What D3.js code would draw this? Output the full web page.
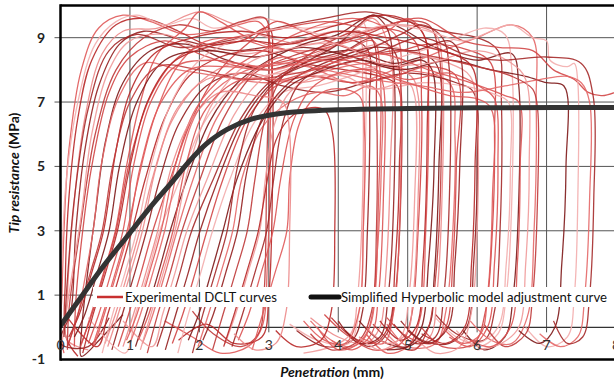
<!DOCTYPE html>
<html>
<head>
<meta charset="utf-8">
<script src="https://cdn.jsdelivr.net/npm/d3@7"></script>
<style>
  html, body { margin: 0; padding: 0; background: #fff; }
  svg { display: block; }
  text { font-family: Lato, "Open Sans", "Liberation Sans", sans-serif; }
</style>
</head>
<body>
<div id="chart"></div>
<script>
// Tip resistance (MPa) versus penetration (mm): each DCLT test is a [penetration, resistance] trace.

// Traces starting right at the surface
const earlyCurves = [
  [[0.05,-0.8],[0.0,-0.2],[0.02,1],[0.05,3],[0.12,5.5],[0.3,8],[0.55,9.3],[0.9,9.7],[1.3,9.5],[1.8,9.1],[2.4,9.3],[2.85,9.5],[3.0,9.0],[3.02,6],[2.98,2],[2.9,0],[2.7,-0.6],[2.3,-0.8],[1.9,-0.3],[1.5,0.2]],
  [[0.25,-0.9],[0.08,-0.3],[0.07,1.5],[0.12,4],[0.25,6.5],[0.45,8.3],[0.8,9.4],[1.2,9.6],[1.7,9.2],[2.1,8.8],[2.6,8.9],[3.0,9.3],[3.05,8],[3.05,4],[3.0,1],[2.9,-0.3],[2.5,-0.5],[2.1,0.1],[1.7,-0.4]],
  [[0.4,-0.7],[0.1,-0.4],[0.1,1],[0.18,3.5],[0.35,6.5],[0.6,8.5],[0.9,9.2],[1.4,9.3],[2.0,9.8],[2.4,9.5],[3.0,9.0],[3.6,8.8],[4.2,9.2],[4.5,9.6],[4.75,8.5],[4.75,5],[4.68,1.5],[4.6,0],[4.4,-0.5],[4.0,-0.3],[3.6,0.3]],
  [[0.7,0.3],[0.4,-0.6],[0.0,-0.5],[0.15,0.5],[0.22,3],[0.35,5.5],[0.55,7.5],[0.85,8.8],[1.2,9.2],[1.8,8.9],[2.5,8.6],[3.2,8.8],[3.8,9.0],[4.4,8.7],[4.45,7],[4.42,3],[4.35,0.5],[4.2,-0.4],[3.8,-0.6],[3.4,-0.1]],
  [[0.2,-0.6],[0.22,0.8],[0.32,3],[0.45,5],[0.7,7.3],[1.0,8.4],[1.5,8.9],[2.0,8.5],[2.6,8.1],[3.3,8.3],[4.0,8.8],[4.6,9.3],[5.1,8.9],[5.2,7],[5.15,3],[5.05,0.3],[4.9,-0.5],[4.5,-0.7],[4.1,-0.2],[3.8,0.4]],
  [[0.0,-0.3],[0.02,2],[0.08,4.5],[0.25,7],[0.5,8.8],[0.8,9.5],[1.1,9.7],[1.5,9.4],[1.9,9.6],[2.2,9.3],[2.9,9.6],[3.5,9.3],[4.0,9.4],[4.35,9.5],[4.4,8],[4.37,4],[4.3,0.5],[4.15,-0.5],[3.7,-0.4],[3.3,0.1]],
  [[0.9,0.4],[0.6,-0.3],[0.3,-0.9],[0.3,-0.2],[0.38,1.5],[0.5,3.5],[0.65,5.8],[0.9,7.6],[1.3,8.6],[1.8,8.8],[2.4,8.3],[3.0,8.0],[3.6,8.4],[4.2,8.6],[4.8,8.2],[5.3,8.4],[5.45,8],[5.45,5],[5.38,1.5],[5.3,0],[5.0,-0.6],[4.6,-0.4],[4.3,0.2]],
  [[0.1,-0.6],[0.25,0.4],[0.35,1.5],[0.47,3],[0.6,5.2],[0.85,7.2],[1.2,8.2],[1.7,8.0],[2.3,7.8],[3.0,7.6],[3.7,7.9],[4.4,8.2],[5.0,8.0],[5.6,7.6],[5.68,6],[5.65,3],[5.55,0.5],[5.4,-0.5],[5.0,-0.6],[4.7,0.1]],
  [[0.1,-0.7],[0.12,0.5],[0.28,3],[0.5,6],[0.8,8],[1.2,9],[1.7,9.4],[2.2,9.2],[2.6,9.5],[2.95,9.6],[3.0,8.5],[2.97,5],[2.93,1],[2.85,-0.2],[2.6,-0.6],[2.2,-0.2],[1.9,0.5]],
  [[0.02,-0.5],[0.12,1],[0.3,3.5],[0.45,6],[0.7,8],[1.0,8.9],[1.5,9.1],[2.0,8.7],[2.7,8.5],[3.4,8.9],[4.0,9.2],[4.3,9.0],[4.35,7.5],[4.35,4],[4.28,1],[4.18,-0.2],[3.9,-0.6],[3.5,-0.8]],
  [[0.05,-0.3],[0.1,1.5],[0.2,4],[0.4,6.8],[0.7,8.6],[1.1,9.1],[1.7,8.7],[2.4,8.9],[3.1,9.3],[3.8,9.6],[4.4,9.8],[5.0,9.5],[5.5,9.2],[6.0,9.0],[6.3,8.6],[6.35,7],[6.33,3],[6.25,0.5],[6.1,-0.4],[5.7,-0.2],[5.4,0.4]]
];

// Traces that start after a short initial penetration
const midCurves = [
  [[0.29,-0.6],[0.44,0.4],[0.62,1.7],[0.79,3],[0.95,5],[1.15,7],[1.4,8.5],[1.8,9.3],[2.0,9.8],[2.3,9.5],[2.7,9.0],[3.3,8.6],[3.9,8.4],[4.5,8.9],[4.6,8],[4.58,4],[4.5,0.5],[4.35,-0.4],[4.0,-0.7],[3.7,0]],
  [[0.46,-0.6],[0.61,0.4],[0.79,1.7],[0.96,3],[1.12,4.6],[1.35,6.5],[1.65,8],[2.0,8.8],[2.5,9.0],[3.0,8.7],[3.6,8.6],[4.2,8.9],[4.7,9.2],[5.0,9.6],[5.25,9.0],[5.3,7],[5.26,3],[5.18,0.3],[5.0,-0.6],[4.7,-0.8],[4.4,-0.2]],
  [[0.1,0.3],[0.53,-0.6],[0.68,0.4],[0.86,1.7],[1.03,3],[1.22,4.6],[1.5,6.5],[1.85,7.8],[2.3,8.4],[2.9,8.6],[3.5,8.2],[4.1,8.0],[4.6,7.8],[4.85,7.5],[4.88,5],[4.82,2],[4.72,0],[4.5,-0.5],[4.2,-0.3],[3.9,0.3]],
  [[0.64,-0.5],[0.79,0.4],[0.97,1.7],[1.14,3],[1.32,4.6],[1.6,6.4],[2.0,7.6],[2.5,8.2],[3.1,8.0],[3.7,8.5],[4.3,9.1],[4.9,9.4],[5.4,9.1],[5.5,8],[5.5,4.5],[5.42,1],[5.32,-0.3],[5.0,-0.7],[4.7,-0.2]],
  [[0.74,-0.7],[0.89,0.4],[1.07,1.7],[1.24,3],[1.43,4.6],[1.7,6.3],[2.1,7.5],[2.6,7.9],[3.2,7.5],[3.8,7.3],[4.4,7.6],[5.0,7.9],[5.7,7.6],[5.95,7.3],[6.0,5],[5.95,2],[5.85,0],[5.6,-0.5],[5.2,-0.4],[4.9,0.2]],
  [[0.83,-0.6],[0.98,0.4],[1.16,1.7],[1.33,3],[1.58,4.6],[1.9,6.5],[2.3,8],[2.8,9.0],[3.1,9.5],[3.5,9.2],[4.1,8.7],[4.7,8.5],[5.3,8.8],[5.9,8.6],[6.2,8.2],[6.25,6],[6.22,3],[6.12,0.5],[5.95,-0.5],[5.5,-0.6],[5.2,0]],
  [[0.4,0.3],[0.93,-0.8],[1.08,0.4],[1.26,1.7],[1.43,3],[1.72,4.6],[2.05,6.3],[2.45,7.4],[2.9,7.8],[3.4,7.9],[4.0,7.7],[4.6,7.4],[5.2,7.6],[5.8,7.5],[6.3,7.2],[6.45,7],[6.48,5],[6.42,2],[6.3,0],[6.0,-0.5],[5.7,-0.3],[5.4,0.3]],
  [[1.08,-0.6],[1.23,0.4],[1.41,1.7],[1.58,3],[1.82,4.6],[2.15,6.4],[2.55,7.6],[3.0,8.3],[3.5,8.8],[4.0,9.1],[4.5,9.7],[4.9,9.3],[5.4,8.7],[6.0,8.3],[6.5,8.5],[6.6,7.5],[6.6,4],[6.52,1],[6.4,-0.3],[6.1,-0.7],[5.8,-0.1]],
  [[1.18,-0.5],[1.33,0.4],[1.51,1.7],[1.68,3],[1.91,4.6],[2.25,6.5],[2.7,7.8],[3.2,8.4],[3.7,8.0],[4.2,7.6],[4.8,8.0],[5.5,8.6],[6.0,9.0],[6.5,9.4],[6.8,9.0],[6.85,7],[6.82,3],[6.72,0.3],[6.5,-0.5],[6.2,-0.4],[5.9,0.2]],
  [[1.25,-0.8],[1.4,0.4],[1.58,1.7],[1.75,3],[2.01,4.6],[2.35,6.5],[2.8,7.9],[3.3,8.4],[3.9,8.8],[4.4,9.1],[4.9,9.5],[5.3,9.4],[5.45,8.5],[5.48,5],[5.4,1.5],[5.3,0],[5.1,-0.7],[4.8,-0.5],[4.5,0.1]],
  [[0.9,0.2],[1.32,-0.6],[1.47,0.4],[1.65,1.7],[1.82,3],[2.11,4.6],[2.5,6.6],[2.9,7.7],[3.4,8.1],[4.0,8.4],[4.6,8.8],[5.1,8.5],[5.6,8.2],[5.9,7.8],[6.0,6.5],[6.0,3],[5.92,0.5],[5.75,-0.6],[5.4,-0.8],[5.1,-0.3]],
  [[1.39,-0.6],[1.54,0.4],[1.72,1.7],[1.89,3],[2.2,4.6],[2.6,6.5],[3.0,7.6],[3.5,8.2],[4.1,8.6],[4.5,9.0],[4.8,8.6],[4.9,7.5],[4.9,4],[4.82,1],[4.7,-0.2],[4.45,-0.6],[4.1,-0.1]],
  [[0.4,-0.5],[0.55,0.4],[0.73,1.7],[0.9,3],[1.05,5],[1.3,7],[1.65,8.1],[2.2,8.3],[2.9,8.1],[3.5,8.3],[4.1,8.3],[4.55,8.0],[4.65,7.5],[4.65,4],[4.58,1],[4.48,-0.2],[4.2,-0.7],[3.9,-0.4]],
  [[0.95,-0.4],[1.1,0.4],[1.28,1.7],[1.45,3],[1.65,5],[1.95,6.8],[2.4,7.9],[3.0,8.7],[3.6,9.3],[4.2,9.6],[4.6,9.4],[4.85,9.0],[4.9,7],[4.88,3],[4.8,0.5],[4.65,-0.5],[4.3,-0.3]],
  [[0.12,-0.3],[0.27,0.4],[0.45,1.7],[0.62,3],[0.8,5.5],[1.0,7.3],[1.35,8.5],[1.9,9.0],[2.6,9.2],[3.3,9.0],[4.0,9.4],[4.7,9.7],[5.1,9.4],[5.25,9.0],[5.28,6],[5.22,2],[5.12,0],[4.9,-0.4],[4.6,0.2]],
  [[0.68,-0.6],[0.83,0.4],[1.01,1.7],[1.18,3],[1.38,5],[1.68,6.8],[2.1,7.7],[2.7,7.9],[3.4,7.6],[4.1,7.9],[4.6,8.1],[5.05,7.8],[5.15,7.2],[5.15,4],[5.08,1],[4.98,-0.2],[4.7,-0.5],[4.4,0]]
];

// Traces that start late and stiffen quickly
const lateCurves = [
  [[1.51,-0.7],[1.66,0.4],[1.84,1.7],[2.01,3],[2.27,4.6],[2.6,6.3],[3.0,7.5],[3.5,8.2],[4.0,8.8],[4.3,9.4],[4.5,9.7],[4.7,9.3],[4.8,8],[4.8,4],[4.72,1],[4.6,-0.3],[4.3,-0.5],[4.0,0.2]],
  [[1.61,-0.5],[1.76,0.4],[1.94,1.7],[2.11,3],[2.34,4.6],[2.7,6.5],[3.1,7.5],[3.6,7.8],[4.2,7.6],[4.8,7.8],[5.3,8.1],[5.7,7.8],[5.7,5],[5.65,2],[5.55,0],[5.35,-0.5],[5.0,-0.3],[4.7,0.3]],
  [[1.69,-0.8],[1.84,0.4],[2.02,1.7],[2.19,3],[2.44,4.6],[2.8,6.4],[3.2,7.3],[3.7,7.5],[4.3,7.9],[4.9,8.4],[5.5,8.8],[6.1,9.3],[6.4,9.1],[6.5,8],[6.5,4],[6.42,1],[6.3,-0.2],[6.0,-0.6],[5.7,-0.1]],
  [[1.84,-0.4],[1.99,0.4],[2.17,1.7],[2.34,3],[2.54,4.6],[2.9,6.4],[3.3,7.5],[3.8,8.0],[4.3,8.3],[4.8,8.1],[5.2,8.3],[5.35,8],[5.38,5],[5.3,2],[5.2,0],[5.0,-0.6],[4.7,-0.7]],
  [[1.98,-0.6],[2.13,0.4],[2.31,1.7],[2.48,3],[2.61,4.6],[2.9,6.2],[3.3,7.0],[3.7,7.3],[4.1,7.2],[4.45,7.5],[4.6,7.2],[4.62,5],[4.55,2],[4.45,0],[4.2,-0.6],[3.9,-0.4],[3.6,0.2]],
  [[2.19,-0.7],[2.34,0.4],[2.52,1.7],[2.69,3],[2.8,4.6],[2.95,6.5],[3.2,7.8],[3.6,8.5],[4.0,9.0],[4.3,9.2],[4.5,8.9],[4.55,7],[4.55,3],[4.48,0.5],[4.3,-0.4],[3.9,-0.7],[3.6,-0.2]],
  [[2.37,-0.5],[2.52,0.4],[2.7,1.7],[2.87,3],[2.95,4.6],[3.08,6.3],[3.3,7.3],[3.7,7.8],[4.1,7.8],[4.5,7.4],[5.0,7.6],[5.1,7.2],[5.1,4],[5.02,1],[4.9,-0.3],[4.6,-0.7],[4.3,-0.3]],
  [[2.47,-0.6],[2.62,0.4],[2.8,1.7],[2.97,3],[3.07,4.6],[3.22,6.5],[3.45,7.6],[3.9,8.2],[4.4,8.6],[4.9,9.1],[5.2,9.4],[5.5,9.0],[5.6,8],[5.6,4],[5.52,1],[5.4,-0.3],[5.1,-0.5],[4.8,0.1]],
  [[2.56,-0.4],[2.71,0.4],[2.89,1.7],[3.06,3],[3.17,4.6],[3.35,6.4],[3.6,7.4],[4.0,7.9],[4.5,8.0],[5.0,7.7],[5.6,7.9],[6.1,7.4],[6.25,7.1],[6.3,5],[6.25,2],[6.15,0],[5.9,-0.6],[5.6,-0.3]],
  [[2.76,-0.7],[2.91,0.4],[3.09,1.7],[3.26,3],[3.3,4.6],[3.42,6.2],[3.6,7.0],[3.9,7.4],[4.3,7.2],[4.38,6],[4.36,3],[4.3,0.5],[4.1,-0.5],[3.8,-0.4],[3.5,0.2]],
  [[2.35,-0.6],[2.5,0.4],[2.68,1.7],[2.85,3],[2.98,4.6],[3.1,5.8],[3.3,6.5],[3.55,6.8],[3.8,6.75],[3.92,6],[3.95,3],[3.9,0.5],[3.75,-0.4],[3.4,-0.6],[3.1,-0.1]],
  [[0.9,-0.6],[1.05,0.4],[1.23,1.7],[1.4,3],[1.6,5],[1.9,6.5],[2.3,7.3],[2.8,7.2],[3.2,7.0],[3.3,6],[3.3,3],[3.25,0.5],[3.1,-0.5],[2.8,-0.7],[2.5,-0.2]],
  [[2.05,-0.4],[2.2,0.4],[2.38,1.7],[2.55,3],[2.7,5],[2.95,6.7],[3.35,7.7],[3.9,8.3],[4.5,8.7],[5.1,8.6],[5.6,8.9],[5.75,8.5],[5.75,5],[5.68,2],[5.58,0],[5.3,-0.5],[5.0,-0.1]]
];

// Long traces that reach the deepest penetrations
const deepCurves = [
  [[0.3,-0.5],[0.45,0.4],[0.63,1.7],[0.8,3],[1.0,5.2],[1.3,7.2],[1.7,8.4],[2.3,8.9],[3.0,9.2],[3.8,9.5],[4.5,9.3],[5.2,9.6],[5.8,8.9],[6.3,8.7],[6.8,8.6],[7.1,8.0],[7.4,7.7],[7.6,7.3],[7.8,7.2],[8.1,7.4]],
  [[0.6,-0.8],[0.75,0.4],[0.93,1.7],[1.1,3],[1.3,5],[1.6,7],[2.0,8.3],[2.6,9.0],[3.3,9.3],[4.0,9.0],[4.7,9.4],[5.3,9.2],[5.8,8.9],[6.2,9.2],[6.5,9.4],[6.8,9.0],[7.0,8.9],[7.05,8.3],[7.3,8.1],[7.4,8.2],[7.45,7.6],[7.45,4],[7.4,1],[7.3,-0.3],[7.0,-0.6],[6.7,0]],
  [[0.2,-0.3],[0.35,0.4],[0.53,1.7],[0.7,3],[0.85,5],[1.1,7],[1.5,8.3],[2.1,8.6],[2.8,8.4],[3.5,8.7],[4.2,8.4],[4.9,8.0],[5.6,8.3],[6.2,8.0],[6.7,7.8],[7.0,7.6],[7.25,7.5],[7.28,5],[7.22,2],[7.12,0],[6.9,-0.5],[6.6,-0.1]],
  [[1.0,-0.5],[1.15,0.4],[1.33,1.7],[1.5,3],[1.7,5],[2.0,6.8],[2.5,7.8],[3.1,8.2],[3.8,8.0],[4.5,7.7],[5.2,7.5],[5.8,7.3],[6.4,7.5],[6.9,7.7],[7.3,7.8],[7.5,7.6],[7.62,7.0],[7.62,4],[7.55,1],[7.45,-0.3],[7.2,-0.6],[6.9,-0.2]],
  [[0.1,-0.6],[0.25,0.4],[0.43,1.7],[0.6,3],[0.75,5],[1.0,7],[1.4,8.1],[2.0,8.0],[2.7,7.7],[3.4,7.9],[4.1,8.2],[4.8,8.6],[5.4,8.4],[6.0,8.1],[6.5,7.8],[6.8,7.4],[6.87,6.8],[6.87,4],[6.8,1],[6.7,-0.2],[6.4,-0.6],[6.1,0.1]],
  [[1.15,-0.7],[1.3,0.4],[1.48,1.7],[1.65,3],[1.85,5],[2.2,7],[2.7,8.2],[3.4,8.7],[4.0,8.8],[4.6,8.2],[5.3,8.2],[6.0,8.6],[6.5,8.2],[6.7,7.7],[6.75,5],[6.7,2],[6.6,0],[6.35,-0.5],[6.0,-0.7]],
  [[1.9,-0.8],[2.05,0.4],[2.23,1.7],[2.4,3],[2.55,5],[2.8,6.8],[3.2,7.8],[3.8,8.3],[4.5,8.5],[5.2,9.0],[5.8,8.5],[6.3,8.3],[7.0,8.4],[7.5,8.2],[7.67,7.2],[7.68,4],[7.62,1],[7.52,-0.3],[7.3,-0.5],[7.1,0.2]],
  [[1.12,-0.4],[1.27,0.4],[1.45,1.7],[1.62,3],[1.8,5],[2.1,6.8],[2.6,7.7],[3.2,7.7],[3.9,8.2],[4.6,8.5],[5.3,8.0],[5.9,7.6],[6.4,7.2],[6.6,7.0],[6.62,5],[6.58,2],[6.48,0],[6.2,-0.6],[5.9,-0.4]],
  [[0.48,-0.6],[0.63,0.4],[0.81,1.7],[0.98,3],[1.15,5],[1.45,7],[1.85,8.0],[2.4,8.1],[3.0,8.0],[3.7,8.3],[4.4,8.0],[5.0,7.6],[5.6,7.2],[6.0,7.1],[6.2,6.8],[6.22,4],[6.15,1],[6.05,-0.2],[5.8,-0.5],[5.5,0]],
  [[0.32,-0.8],[0.47,0.4],[0.65,1.7],[0.82,3],[1.0,5],[1.25,7],[1.6,8.2],[2.1,8.7],[2.7,8.9],[3.3,8.8],[4.0,9.2],[4.7,9.0],[5.3,8.7],[5.75,8.4],[5.95,8.0],[5.97,5],[5.92,2],[5.82,0],[5.55,-0.5],[5.2,-0.2]]
];

// Simplified hyperbolic model adjustment curve
const modelPenetration = [0, 0.3, 0.6, 0.95, 1.3, 1.62, 1.85, 2.1, 2.4, 2.75, 3.0, 3.5, 4.0, 5.0, 6.0, 8.0];
const modelResistance  = [0.05, 0.95, 1.85, 2.8, 3.75, 4.55, 5.15, 5.7, 6.15, 6.47, 6.59, 6.71, 6.76, 6.8, 6.82, 6.83];

const xTicks = [0, 1, 2, 3, 4, 5, 6, 7, 8];
const yTicks = [-1, 1, 3, 5, 7, 9];
const yGrid  = [1, 3, 5, 7, 9];

const legendLabels = ["Experimental DCLT curves", "Simplified Hyperbolic model adjustment curve"];

// Stroke shades for the experimental traces
const redShades = ["#e05a5a", "#b82828", "#ec8a8a", "#952020", "#d24646", "#f3adad", "#7e1818", "#e46868", "#bf3a3a", "#f09a9a", "#a52a2a", "#dc5454"];

const W = 614, H = 383;
const svg = d3.select("#chart").append("svg").attr("width", W).attr("height", H);
svg.append("rect").attr("width", W).attr("height", H).attr("fill", "#fff");

const x = d3.scaleLinear().domain([0, 8]).range([60.5, 616]);
const y = d3.scaleLinear().domain([-1, 10]).range([359.5, 5.5]);

svg.append("defs").append("clipPath").attr("id", "plotClip")
  .append("rect").attr("x", x(0)).attr("y", y(10)).attr("width", x(8) - x(0)).attr("height", y(-1) - y(10));

// Grid
const grid = svg.append("g");
grid.selectAll("line.h").data(yGrid).join("line")
  .attr("x1", x(0) - 6).attr("x2", x(8)).attr("y1", d => y(d)).attr("y2", d => y(d))
  .attr("stroke", "#555").attr("stroke-width", 1);
grid.selectAll("line.v").data(xTicks.filter(d => d > 0)).join("line")
  .attr("x1", d => x(d)).attr("x2", d => x(d)).attr("y1", y(10)).attr("y2", y(0) + 5)
  .attr("stroke", "#555").attr("stroke-width", 1);
grid.append("line").attr("x1", x(0)).attr("x2", x(8)).attr("y1", y(0)).attr("y2", y(0))
  .attr("stroke", "#333").attr("stroke-width", 1.2);

// Experimental traces
const allCurves = [...earlyCurves, ...midCurves, ...lateCurves, ...deepCurves];
const traceLine = d3.line().x(d => x(d[0])).y(d => y(d[1])).curve(d3.curveCatmullRom.alpha(0.5));
const plot = svg.append("g").attr("clip-path", "url(#plotClip)");
plot.selectAll("path.trace").data(allCurves).join("path")
  .attr("class", "trace")
  .attr("d", traceLine)
  .attr("fill", "none")
  .attr("stroke", (d, i) => redShades[i % redShades.length])
  .attr("stroke-width", 1.3)
  .attr("stroke-opacity", 0.9);

// Model curve
const modelData = modelPenetration.map((p, i) => [p, modelResistance[i]]);
plot.append("path")
  .attr("d", d3.line().x(d => x(d[0])).y(d => y(d[1])).curve(d3.curveMonotoneX)(modelData))
  .attr("fill", "none").attr("stroke", "#333").attr("stroke-width", 5).attr("stroke-linecap", "round");

// Legend
const lg = svg.append("g");
lg.append("rect").attr("x", 93).attr("y", 287).attr("width", W - 93).attr("height", 20).attr("fill", "#fff");
lg.append("line").attr("x1", 97).attr("x2", 123).attr("y1", 297).attr("y2", 297)
  .attr("stroke", "#c83030").attr("stroke-width", 2.5);
lg.append("text").attr("x", 125).attr("y", 302).attr("font-size", 13.5).attr("fill", "#111")
  .attr("textLength", 152).attr("lengthAdjust", "spacingAndGlyphs").text(legendLabels[0]);
lg.append("line").attr("x1", 311).attr("x2", 339).attr("y1", 297).attr("y2", 297)
  .attr("stroke", "#111").attr("stroke-width", 5).attr("stroke-linecap", "round");
lg.append("text").attr("x", 341).attr("y", 302).attr("font-size", 12.5).attr("fill", "#111")
  .attr("textLength", 266).attr("lengthAdjust", "spacingAndGlyphs").text(legendLabels[1]);

// Frame
const frame = svg.append("g").attr("stroke", "#000").attr("stroke-width", 2.5);
frame.append("line").attr("x1", x(0)).attr("x2", W).attr("y1", y(10)).attr("y2", y(10));
frame.append("line").attr("x1", x(0)).attr("x2", W).attr("y1", y(-1)).attr("y2", y(-1));
frame.append("line").attr("x1", x(0)).attr("x2", x(0)).attr("y1", y(10) - 1.2).attr("y2", y(-1) + 1.2);

// Tick labels
svg.append("g").selectAll("text").data(yTicks).join("text")
  .attr("x", 45).attr("y", d => y(d)).attr("dy", "0.35em")
  .attr("text-anchor", "end").attr("font-size", 14).attr("font-weight", "bold").attr("fill", "#222")
  .text(d => d);
svg.append("g").selectAll("text").data(xTicks).join("text")
  .attr("x", d => x(d)).attr("y", 350)
  .attr("text-anchor", "middle").attr("font-size", 14).attr("fill", "#333")
  .text(d => d);

// Axis titles
const yt = svg.append("text").attr("transform", "translate(19,173) rotate(-90)")
  .attr("text-anchor", "middle").attr("font-size", 14).attr("font-weight", "bold").attr("fill", "#111");
yt.append("tspan").attr("font-style", "italic").text("Tip resistance");
yt.append("tspan").text(" (MPa)");

const xt = svg.append("text").attr("x", 332).attr("y", 377)
  .attr("text-anchor", "middle").attr("font-size", 14).attr("font-weight", "bold").attr("fill", "#111");
xt.append("tspan").attr("font-style", "italic").text("Penetration");
xt.append("tspan").text(" (mm)");
</script>
</body>
</html>
